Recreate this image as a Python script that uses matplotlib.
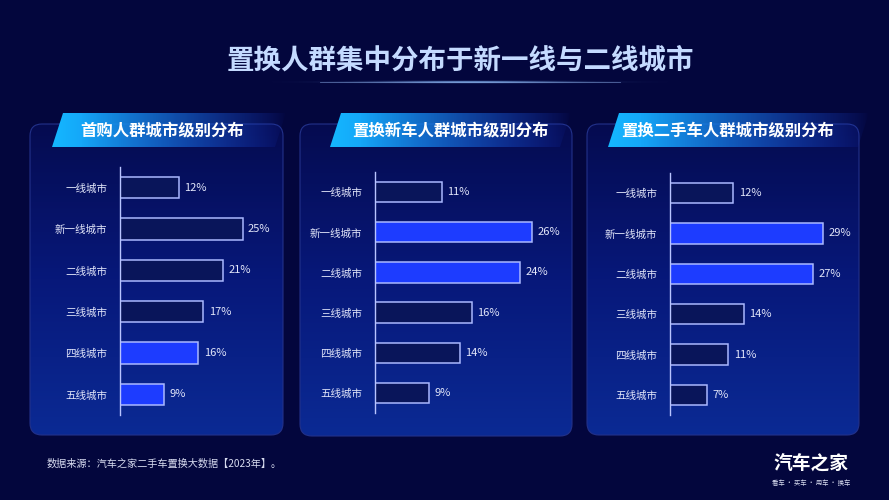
import numpy as np
import matplotlib
matplotlib.use("Agg")
import matplotlib.pyplot as plt
from matplotlib.patches import FancyBboxPatch, Polygon
from matplotlib.colors import LinearSegmentedColormap

plt.rcParams['font.family'] = ['Noto Sans CJK SC', 'DejaVu Sans']

# data
cities = ['一线城市', '新一线城市', '二线城市', '三线城市', '四线城市', '五线城市']
first_buy = [12, 25, 21, 17, 16, 9]
replace_new = [11, 26, 24, 16, 14, 9]
replace_used = [12, 29, 27, 14, 11, 7]
highlight_first = ['四线城市', '五线城市']
highlight_new = ['新一线城市', '二线城市']
highlight_used = ['新一线城市', '二线城市']
panel_titles = ['首购人群城市级别分布', '置换新车人群城市级别分布', '置换二手车人群城市级别分布']
main_title = '置换人群集中分布于新一线与二线城市'
source_note = '数据来源：汽车之家二手车置换大数据【2023年】。'

W, H = 889, 500
BG = '#03063d'
BAR_EDGE = '#aab8ff'
BAR_FILL = '#09155a'
BAR_HI = '#1d3cff'
TXT = '#e2e6fa'

fig = plt.figure(figsize=(W / 100, H / 100), dpi=100, facecolor=BG)
bg = fig.add_axes([0, 0, 1, 1])
bg.set_xlim(0, W)
bg.set_ylim(H, 0)
bg.axis('off')
bg.set_facecolor(BG)

panel_cmap = LinearSegmentedColormap.from_list('pn', ['#050b50', '#07187a', '#0b2a94'])
grad = np.linspace(0, 1, 256).reshape(-1, 1)


def draw_panel(x0, x1, y0, y1):
    patch = FancyBboxPatch((x0, y0), x1 - x0, y1 - y0,
                           boxstyle='round,pad=0,rounding_size=12',
                           facecolor='none', edgecolor='#22318a', lw=0.8, zorder=2)
    bg.add_patch(patch)
    im = bg.imshow(grad, extent=[x0, x1, y1, y0], cmap=panel_cmap, aspect='auto',
                   origin='upper', zorder=1)
    im.set_clip_path(patch)


def draw_banner(x0, x1, y0, y1, text, tx):
    slant = 11
    poly = Polygon([[x0 + slant, y0], [x1 + slant, y0], [x1, y1], [x0, y1]],
                   closed=True, facecolor='none', edgecolor='none', zorder=3)
    bg.add_patch(poly)
    n = 256
    t = np.linspace(0, 1, n)
    c0 = np.array([0.08, 0.72, 1.0])
    c1 = np.array([0.10, 0.22, 0.80])
    rgba = np.zeros((1, n, 4))
    rgba[0, :, :3] = c0[None, :] * (1 - t[:, None]) + c1[None, :] * t[:, None]
    rgba[0, :, 3] = np.clip((1 - t) ** 0.7 * 1.1, 0, 1)
    im = bg.imshow(rgba, extent=[x0, x1 + slant, y1, y0], aspect='auto',
                   origin='upper', zorder=3)
    im.set_clip_path(poly)
    bg.text(tx, (y0 + y1) / 2 + 0.5, text, color='white', fontsize=11.8,
            fontweight='bold', ha='center', va='center', zorder=4)


# panels
draw_panel(30, 283, 124, 435)
draw_panel(300, 572, 124, 436)
draw_panel(587, 859, 124, 435)

draw_banner(52, 275, 113, 147, panel_titles[0], 162)
draw_banner(330, 560, 113, 147, panel_titles[1], 450)
draw_banner(608, 858, 113, 147, panel_titles[2], 728)

# title + glow
xs = np.linspace(-1, 1, 400)
ys = np.linspace(-1, 1, 40)
glow = np.zeros((40, 400, 4))
glow[..., 0] = 0.55
glow[..., 1] = 0.75
glow[..., 2] = 1.0
glow[..., 3] = np.exp(-(xs[None, :] / 0.45) ** 2) * np.exp(-(ys[:, None] / 0.12) ** 2) * 0.9
bg.imshow(glow, extent=[260, 680, 90, 74], aspect='auto', origin='upper', zorder=2)
bg.plot([320, 620], [82, 82], color='#9fc3ff', lw=0.6, alpha=0.5, zorder=2)
bg.text(460, 61, main_title, color='#c4daff', fontsize=19.8, fontweight='bold',
        ha='center', va='center', zorder=4)

# footer
bg.text(47, 464, source_note, color='#d8dcf0', fontsize=7.3, ha='left', va='center')
bg.text(811, 464, '汽车之家', color='white', fontsize=13.5, fontweight='bold',
        ha='center', va='center')
bg.text(811, 483, '看车 · 买车 · 用车 · 换车', color='#d8dcf0', fontsize=4.6,
        ha='center', va='center')
bg.set_xlim(0, W)
bg.set_ylim(H, 0)

# bar charts
charts = [
    (first_buy, highlight_first, 120, 280, 167, 415, 4.9),
    (replace_new, highlight_new, 375, 570, 172, 413, 6.05),
    (replace_used, highlight_used, 670, 856, 173, 415, 5.28),
]
for vals, hi, x0, x1, y0, y1, pxper in charts:
    ax = fig.add_axes([x0 / W, 1 - y1 / H, (x1 - x0) / W, (y1 - y0) / H])
    ax.patch.set_alpha(0)
    ypos = np.arange(len(cities))
    colors = [BAR_HI if c in hi else BAR_FILL for c in cities]
    ax.barh(ypos, vals, height=0.51, color=colors, edgecolor=BAR_EDGE, linewidth=1.1)
    ax.set_ylim(len(cities) - 0.5, -0.5)
    ax.set_xlim(0, (x1 - x0) / pxper)
    for y, v in zip(ypos, vals):
        ax.text(v + 5.5 / pxper, y, f'{v}%', color=TXT, fontsize=8,
                ha='left', va='center')
    ax.set_yticks(ypos)
    ax.set_yticklabels(cities, color=TXT, fontsize=7.6)
    ax.tick_params(axis='y', length=0, pad=9)
    ax.set_xticks([])
    for s in ['top', 'right', 'bottom']:
        ax.spines[s].set_visible(False)
    ax.spines['left'].set_color('#b8c4ff')
    ax.spines['left'].set_linewidth(1.0)

fig.savefig('out.png', dpi=100, facecolor=BG)
